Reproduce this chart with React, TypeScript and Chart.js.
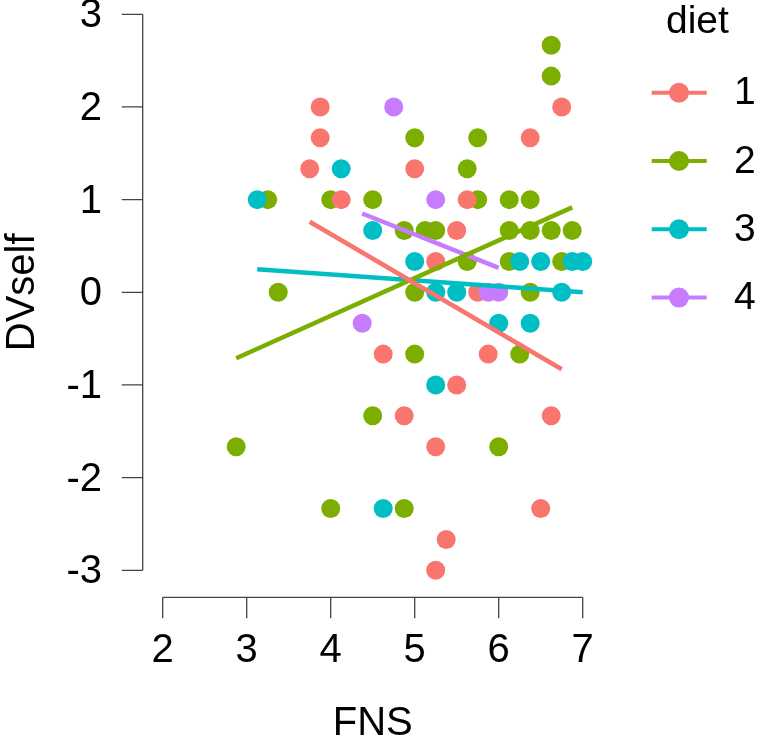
import React, { useEffect, useRef } from "react";
import { Chart, registerables } from "chart.js";

Chart.register(...registerables);

const FONT = "'Liberation Sans', Arial, Helvetica, sans-serif";

// axis ticks
const xTicks = [2, 3, 4, 5, 6, 7];
const yTicks = [-3, -2, -1, 0, 1, 2, 3];

// legend
const dietLevels = ["1", "2", "3", "4"];
const dietColors = ["#F8766D", "#7CAE00", "#00BFC4", "#C77CFF"];

// diet 1 (red)
const diet1FNS = [3.875, 3.875, 3.75, 5.0, 4.125, 5.625, 5.5, 5.25, 5.75, 4.625, 5.875, 5.5, 4.875, 6.625, 5.25, 6.5, 5.375, 5.25, 6.75, 6.375];
const diet1DV = [2, 1.667, 1.333, 1.333, 1, 1, 0.667, 0.333, 0, -0.667, -0.667, -1, -1.333, -1.333, -1.667, -2.333, -2.667, -3, 2, 1.667];

// diet 2 (green)
const diet2FNS = [3.25, 3.375, 2.875, 4.0, 4.5, 5.0, 4.875, 5.125, 5.25, 5.0, 5.0, 4.5, 4.0, 4.875, 5.625, 5.75, 5.75, 5.625, 6.125, 6.375, 6.125, 6.375, 6.625, 6.875, 6.125, 6.75, 6.375, 6.25, 6.0, 6.625, 6.625];
const diet2DV = [1, 0, -1.667, 1, 1, 1.667, 0.667, 0.667, 0.667, 0, -0.667, -1.333, -2.333, -2.333, 1.333, 1.667, 1, 0.333, 1, 1, 0.667, 0.667, 0.667, 0.667, 0.333, 0.333, 0, -0.667, -1.667, 2.667, 2.333];

// diet 3 (cyan)
const diet3FNS = [3.125, 4.125, 4.5, 5.0, 5.25, 5.5, 6.25, 6.5, 6.875, 7.0, 6.75, 6.0, 6.375, 5.25, 4.625];
const diet3DV = [1, 1.333, 0.667, 0.333, 0, 0, 0.333, 0.333, 0.333, 0.333, 0, -0.333, -0.333, -1, -2.333];

// diet 4 (purple)
const diet4FNS = [4.75, 5.25, 4.375, 5.875, 6.0];
const diet4DV = [2, 1, -0.333, 0, 0];

// fitted regression lines (end points)
const fit1FNS = [3.75, 6.75];
const fit1DV = [0.762, -0.831];
const fit2FNS = [2.875, 6.875];
const fit2DV = [-0.712, 0.917];
const fit3FNS = [3.125, 7.0];
const fit3DV = [0.248, 0.0];
const fit4FNS = [4.375, 6.0];
const fit4DV = [0.85, 0.263];

const pointsFNS = [diet1FNS, diet2FNS, diet3FNS, diet4FNS];
const pointsDV = [diet1DV, diet2DV, diet3DV, diet4DV];
const fitsFNS = [fit1FNS, fit2FNS, fit3FNS, fit4FNS];
const fitsDV = [fit1DV, fit2DV, fit3DV, fit4DV];

const toXY = (xs: number[], ys: number[]) => xs.map((x, i) => ({ x, y: ys[i] }));

// draw order: green bottom, then red, cyan, purple
const pointOrder = [3, 4, 2, 1];

const baseAxesAndLegend = {
  id: "baseAxesAndLegend",
  afterDraw(chart: any) {
    const { ctx } = chart;
    const xs = chart.scales.x;
    const ys = chart.scales.y;
    ctx.save();
    // axes (base-R style: line spans first..last tick, offset from panel)
    ctx.strokeStyle = "#444";
    ctx.lineWidth = 1.3;
    const axisX = xs.getPixelForValue(xTicks[0]) - 20;
    const axisY = ys.getPixelForValue(yTicks[0]) + 27;
    const tickLen = 21;
    ctx.beginPath();
    ctx.moveTo(xs.getPixelForValue(xTicks[0]), axisY);
    ctx.lineTo(xs.getPixelForValue(xTicks[xTicks.length - 1]), axisY);
    xTicks.forEach((v) => {
      const px = xs.getPixelForValue(v);
      ctx.moveTo(px, axisY);
      ctx.lineTo(px, axisY + tickLen);
    });
    ctx.moveTo(axisX, ys.getPixelForValue(yTicks[0]));
    ctx.lineTo(axisX, ys.getPixelForValue(yTicks[yTicks.length - 1]));
    yTicks.forEach((v) => {
      const py = ys.getPixelForValue(v);
      ctx.moveTo(axisX, py);
      ctx.lineTo(axisX - tickLen, py);
    });
    ctx.stroke();

    // legend
    ctx.fillStyle = "#000";
    ctx.font = `39px ${FONT}`;
    ctx.textAlign = "left";
    ctx.textBaseline = "alphabetic";
    ctx.fillText("diet", 666, 33);
    dietLevels.forEach((lab, i) => {
      const cy = 92.7 + i * 68.3;
      ctx.strokeStyle = dietColors[i];
      ctx.lineWidth = 4;
      ctx.beginPath();
      ctx.moveTo(651.7, cy);
      ctx.lineTo(706.7, cy);
      ctx.stroke();
      ctx.fillStyle = dietColors[i];
      ctx.beginPath();
      ctx.arc(679, cy, 10, 0, Math.PI * 2);
      ctx.fill();
      ctx.fillStyle = "#000";
      ctx.textBaseline = "middle";
      ctx.fillText(lab, 734, cy + 1);
    });
    ctx.restore();
  },
};

export default function App() {
  const ref = useRef<HTMLCanvasElement | null>(null);
  useEffect(() => {
    if (!ref.current) return;
    const datasets: any[] = [];
    dietLevels.forEach((lab, i) => {
      datasets.push({
        type: "scatter",
        label: lab,
        data: toXY(pointsFNS[i], pointsDV[i]),
        backgroundColor: dietColors[i],
        borderWidth: 0,
        pointRadius: 9.5,
        pointBorderWidth: 0,
        pointHoverRadius: 9.5,
        order: pointOrder[i],
        clip: false,
      });
    });
    dietLevels.forEach((lab, i) => {
      datasets.push({
        type: "scatter",
        label: "fit " + lab,
        data: toXY(fitsFNS[i], fitsDV[i]),
        showLine: true,
        borderColor: dietColors[i],
        borderWidth: 4.5,
        pointRadius: 0,
        pointHoverRadius: 0,
        order: 0,
        clip: false,
      });
    });
    const chart = new Chart(ref.current, {
      type: "scatter",
      data: { datasets },
      options: {
        animation: false,
        responsive: false,
        events: [],
        layout: { padding: { top: 14.3, right: 176.3, left: 0, bottom: 0 } },
        plugins: { legend: { display: false }, tooltip: { enabled: false } },
        scales: {
          x: {
            type: "linear",
            min: 2,
            max: 7,
            afterBuildTicks: (s: any) => {
              s.ticks = xTicks.map((v) => ({ value: v }));
            },
            afterFit: (s: any) => {
              s.height = 171.7;
              s.paddingLeft = 0;
              s.paddingRight = 0;
            },
            grid: { display: false, drawTicks: false },
            border: { display: false },
            ticks: {
              padding: 61,
              color: "#000",
              autoSkip: false,
              maxRotation: 0,
              font: { family: FONT, size: 40, lineHeight: 1 },
            },
            title: {
              display: true,
              text: "FNS",
              color: "#000",
              padding: 0,
              font: { family: FONT, size: 40, lineHeight: 0.9 },
            },
          },
          y: {
            type: "linear",
            min: -3,
            max: 3,
            afterBuildTicks: (s: any) => {
              s.ticks = yTicks.map((v) => ({ value: v }));
            },
            afterFit: (s: any) => {
              s.width = 162.7;
              s.paddingTop = 0;
              s.paddingBottom = 0;
            },
            grid: { display: false, drawTicks: false },
            border: { display: false },
            ticks: {
              padding: 60.7,
              labelOffset: 2,
              color: "#000",
              autoSkip: false,
              font: { family: FONT, size: 40, lineHeight: 1 },
            },
            title: {
              display: true,
              text: "DVself",
              color: "#000",
              padding: { top: 3, bottom: 0 },
              font: { family: FONT, size: 40, lineHeight: 1 },
            },
          },
        },
      },
      plugins: [baseAxesAndLegend],
    });
    return () => chart.destroy();
  }, []);
  return (
    <div style={{ position: "fixed", left: 0, top: 0, width: 759, height: 742, background: "#fff" }}>
      <canvas ref={ref} width={759} height={742} style={{ display: "block" }} />
    </div>
  );
}
